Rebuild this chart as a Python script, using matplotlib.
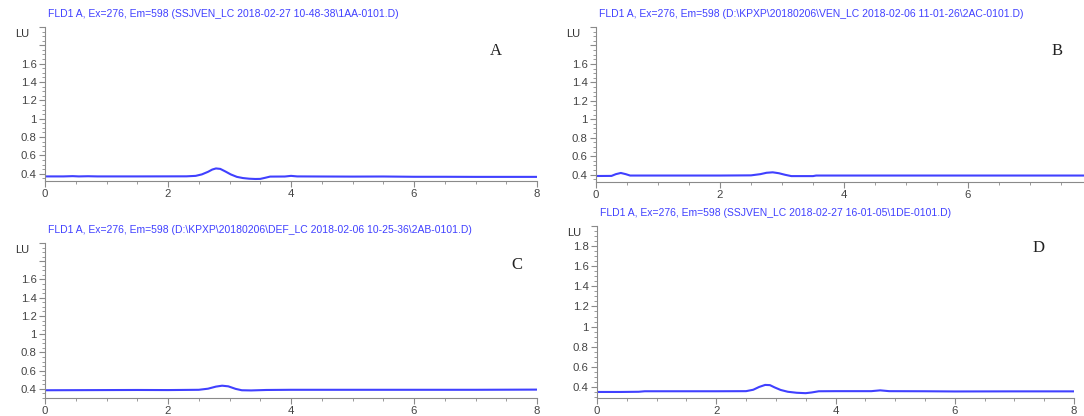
import matplotlib
matplotlib.use("Agg")
import matplotlib.pyplot as plt
from matplotlib.ticker import FixedLocator, MultipleLocator, FuncFormatter

plt.rcParams["font.family"] = ["Liberation Sans", "DejaVu Sans"]

# --- chromatogram traces (time in min, signal in LU) ---
a_time = [0.0, 0.3, 0.45, 0.55, 0.7, 0.85, 1.5, 2.3, 2.45, 2.55, 2.65, 2.72, 2.78,
          2.85, 2.93, 3.02, 3.12, 3.22, 3.32, 3.42, 3.5, 3.58, 3.66, 3.9, 4.0,
          4.1, 4.5, 5.0, 5.5, 6.0, 6.5, 7.0, 8.0]
a_sig = [0.370, 0.370, 0.373, 0.370, 0.372, 0.370, 0.370, 0.371, 0.376, 0.392,
         0.420, 0.445, 0.457, 0.452, 0.425, 0.392, 0.365, 0.352, 0.345, 0.342,
         0.343, 0.355, 0.368, 0.369, 0.376, 0.370, 0.369, 0.368, 0.369, 0.366,
         0.366, 0.365, 0.365]

b_time = [0.0, 0.25, 0.32, 0.4, 0.48, 0.55, 1.0, 2.0, 2.5, 2.65, 2.75, 2.85,
          2.95, 3.05, 3.15, 3.5, 3.55, 4.0, 6.0, 7.9]
b_sig = [0.385, 0.386, 0.405, 0.418, 0.405, 0.390, 0.390, 0.390, 0.392, 0.405,
         0.420, 0.425, 0.415, 0.398, 0.384, 0.384, 0.390, 0.390, 0.390, 0.390]

c_time = [0.0, 0.5, 1.0, 1.5, 2.0, 2.5, 2.65, 2.78, 2.88, 2.98, 3.1, 3.2, 3.35,
          3.6, 4.0, 5.0, 6.0, 7.0, 8.0]
c_sig = [0.385, 0.386, 0.387, 0.388, 0.387, 0.390, 0.402, 0.425, 0.435, 0.428,
         0.400, 0.385, 0.383, 0.388, 0.390, 0.390, 0.390, 0.390, 0.392]

d_time = [0.0, 0.4, 0.7, 0.8, 1.5, 2.0, 2.5, 2.62, 2.72, 2.82, 2.9, 2.98, 3.08,
          3.2, 3.35, 3.5, 3.6, 3.72, 4.0, 4.6, 4.75, 4.9, 5.5, 6.0, 7.0, 8.0]
d_sig = [0.350, 0.350, 0.352, 0.357, 0.357, 0.357, 0.358, 0.372, 0.400, 0.420,
         0.418, 0.395, 0.370, 0.352, 0.342, 0.338, 0.345, 0.357, 0.358, 0.358,
         0.366, 0.358, 0.357, 0.355, 0.356, 0.356]

titles = [
    r"FLD1 A, Ex=276, Em=598 (SSJVEN_LC 2018-02-27 10-48-38\1AA-0101.D)",
    r"FLD1 A, Ex=276, Em=598 (D:\KPXP\20180206\VEN_LC 2018-02-06 11-01-26\2AC-0101.D)",
    r"FLD1 A, Ex=276, Em=598 (D:\KPXP\20180206\DEF_LC 2018-02-06 10-25-36\2AB-0101.D)",
    r"FLD1 A, Ex=276, Em=598 (SSJVEN_LC 2018-02-27 16-01-05\1DE-0101.D)",
]
letters = ["A", "B", "C", "D"]

W, H = 1084, 416
fig = plt.figure(figsize=(W / 100, H / 100), dpi=100)

BLUE = "#4040ff"
GREY = "#8a8a8a"


def px_axes(left, top, right, bottom):
    return fig.add_axes([left / W, 1 - bottom / H, (right - left) / W, (bottom - top) / H])


# (left, top, right, bottom) px, xmax, ymin, highest labelled tick, letter pos (x, y) px
panels = [
    ((45, 27, 537, 181), 8.0, 0.32, 1.6, (496, 51)),
    ((596, 27, 1084, 182), 7.87, 0.32, 1.6, (1057, 51)),
    ((45, 243, 537, 398), 8.0, 0.30, 1.6, (517, 265)),
    ((597, 226, 1074, 398), 8.0, 0.29, 1.8, (1039, 248)),
]
traces = [(a_time, a_sig), (b_time, b_sig), (c_time, c_sig), (d_time, d_sig)]

for (rect, xmax, ymin, ylab_max, (lx, ly)), (t, s), title, letter in zip(
        panels, traces, titles, letters):
    ax = px_axes(*rect)
    ax.plot(t, s, color=BLUE, lw=1.5, solid_capstyle="butt")
    ax.set_xlim(0, xmax)
    ax.set_ylim(ymin, 2.0)

    for side in ("top", "right"):
        ax.spines[side].set_visible(False)
    for side in ("left", "bottom"):
        ax.spines[side].set_color(GREY)
        ax.spines[side].set_linewidth(0.8)

    ax.xaxis.set_major_locator(FixedLocator([0, 2, 4, 6, 8]))
    ax.xaxis.set_minor_locator(MultipleLocator(0.5))
    ax.yaxis.set_major_locator(FixedLocator([0.4, 0.6, 0.8, 1.0, 1.2, 1.4, 1.6, 1.8, 2.0]))
    ax.yaxis.set_minor_locator(MultipleLocator(0.05))
    ax.yaxis.set_major_formatter(
        FuncFormatter(lambda v, p, m=ylab_max: f"{v:g}" if v <= m + 1e-9 else ""))
    ax.tick_params(which="major", length=4, width=0.8, color=GREY,
                   labelsize=8.2, labelcolor="#444444", pad=2)
    ax.tick_params(which="minor", length=2.5, width=0.6, color=GREY)

    left, top, right, bottom = rect
    fig.text((left + 3) / W, 1 - (top - 13) / H, title, color=BLUE,
             fontsize=7.5, ha="left", va="center")
    fig.text((left - 30) / W, 1 - (top + 7) / H, "LU", color="#333333",
             fontsize=8, ha="left", va="center")
    fig.text(lx / W, 1 - ly / H, letter, family="Liberation Serif",
             fontsize=12, ha="center", va="center", color="#222222")

fig.savefig("out.png", dpi=100)
